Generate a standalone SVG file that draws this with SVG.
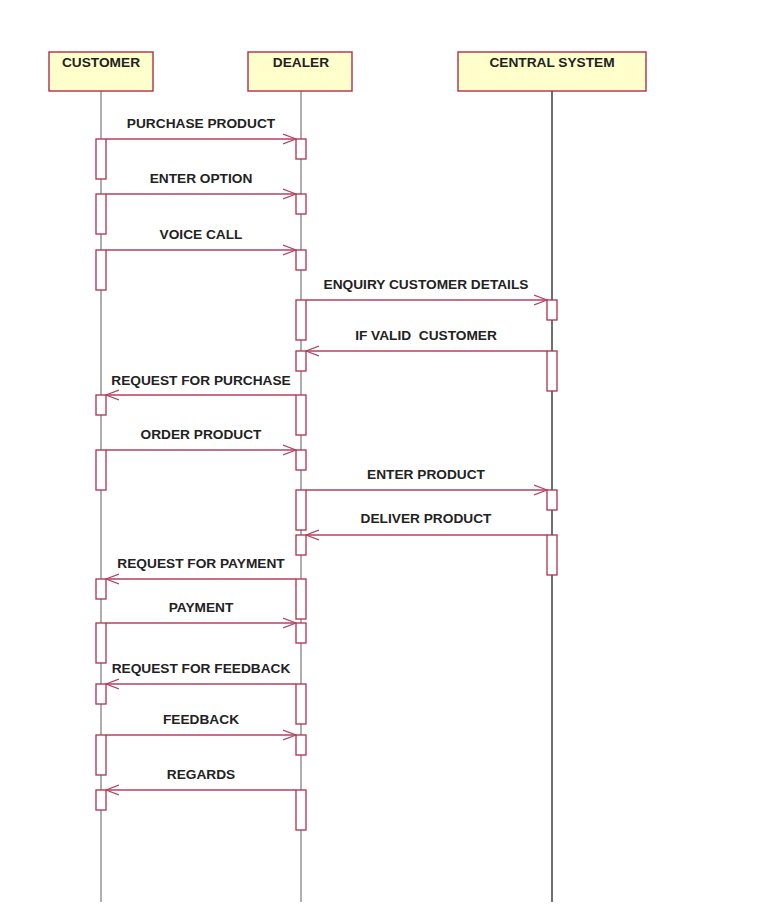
<svg xmlns="http://www.w3.org/2000/svg" width="761" height="909" viewBox="0 0 761 909">
<style>
.hdr{fill:#ffffcc;stroke:#b0304c;stroke-width:1.4}
.ll{stroke:#9a9a9a;stroke-width:1.6;fill:none}
.ll2{stroke:#222;stroke-width:1.3;fill:none}
.act{fill:#fff;stroke:#b0304c;stroke-width:1.3}
.msg{stroke:#b5405f;stroke-width:1.3;fill:none;marker-end:url(#ah)}
.t{font-family:"Liberation Sans",Arial,sans-serif;font-weight:bold;font-size:13.7px;fill:#222;text-anchor:middle}
</style>
<defs>
<marker id="ah" viewBox="0 0 14 12" refX="13" refY="6" markerWidth="14" markerHeight="12" markerUnits="userSpaceOnUse" orient="auto">
<path d="M0,1 L13,6 L0,11" fill="none" stroke="#b5405f" stroke-width="1.2"/>
</marker>
</defs>
<rect width="761" height="909" fill="#fff"/>
<g id="customer">
<line class="ll" x1="101" y1="91" x2="101" y2="902"/>
<rect class="hdr" x="49" y="52" width="104" height="39"/>
<text class="t" x="101" y="67">CUSTOMER</text>
<rect class="act" x="96" y="139" width="10" height="40"/>
<rect class="act" x="96" y="194" width="10" height="40"/>
<rect class="act" x="96" y="250" width="10" height="40"/>
<rect class="act" x="96" y="395" width="10" height="20"/>
<rect class="act" x="96" y="450" width="10" height="40"/>
<rect class="act" x="96" y="579" width="10" height="20"/>
<rect class="act" x="96" y="623" width="10" height="40"/>
<rect class="act" x="96" y="684" width="10" height="20"/>
<rect class="act" x="96" y="735" width="10" height="40"/>
<rect class="act" x="96" y="790" width="10" height="20"/>
</g>
<g id="dealer">
<line class="ll" x1="301" y1="91" x2="301" y2="902"/>
<rect class="hdr" x="248" y="52" width="104" height="39"/>
<text class="t" x="301" y="67">DEALER</text>
<rect class="act" x="296" y="139" width="10" height="20"/>
<rect class="act" x="296" y="194" width="10" height="20"/>
<rect class="act" x="296" y="250" width="10" height="20"/>
<rect class="act" x="296" y="300" width="10" height="40"/>
<rect class="act" x="296" y="351" width="10" height="20"/>
<rect class="act" x="296" y="395" width="10" height="40"/>
<rect class="act" x="296" y="450" width="10" height="20"/>
<rect class="act" x="296" y="490" width="10" height="40"/>
<rect class="act" x="296" y="535" width="10" height="20"/>
<rect class="act" x="296" y="579" width="10" height="40"/>
<rect class="act" x="296" y="623" width="10" height="20"/>
<rect class="act" x="296" y="684" width="10" height="40"/>
<rect class="act" x="296" y="735" width="10" height="20"/>
<rect class="act" x="296" y="790" width="10" height="40"/>
</g>
<g id="central">
<line class="ll2" x1="552" y1="91" x2="552" y2="902"/>
<rect class="hdr" x="458" y="52" width="188" height="39"/>
<text class="t" x="552" y="67">CENTRAL SYSTEM</text>
<rect class="act" x="547" y="300" width="10" height="20"/>
<rect class="act" x="547" y="351" width="10" height="40"/>
<rect class="act" x="547" y="490" width="10" height="20"/>
<rect class="act" x="547" y="535" width="10" height="40"/>
</g>
<g id="connectors">
<line class="msg" x1="106" y1="139" x2="296" y2="139"/>
<text class="t" x="201" y="128">PURCHASE PRODUCT</text>
<line class="msg" x1="106" y1="194" x2="296" y2="194"/>
<text class="t" x="201" y="183">ENTER OPTION</text>
<line class="msg" x1="106" y1="250" x2="296" y2="250"/>
<text class="t" x="201" y="239">VOICE CALL</text>
<line class="msg" x1="306" y1="300" x2="547" y2="300"/>
<text class="t" x="426" y="289">ENQUIRY CUSTOMER DETAILS</text>
<line class="msg" x1="547" y1="351" x2="306" y2="351"/>
<text class="t" x="426" y="340" xml:space="preserve">IF VALID  CUSTOMER</text>
<line class="msg" x1="296" y1="395" x2="106" y2="395"/>
<text class="t" x="201" y="385">REQUEST FOR PURCHASE</text>
<line class="msg" x1="106" y1="450" x2="296" y2="450"/>
<text class="t" x="201" y="439">ORDER PRODUCT</text>
<line class="msg" x1="306" y1="490" x2="547" y2="490"/>
<text class="t" x="426" y="479">ENTER PRODUCT</text>
<line class="msg" x1="547" y1="535" x2="306" y2="535"/>
<text class="t" x="426" y="523">DELIVER PRODUCT</text>
<line class="msg" x1="296" y1="579" x2="106" y2="579"/>
<text class="t" x="201" y="568">REQUEST FOR PAYMENT</text>
<line class="msg" x1="106" y1="623" x2="296" y2="623"/>
<text class="t" x="201" y="612">PAYMENT</text>
<line class="msg" x1="296" y1="684" x2="106" y2="684"/>
<text class="t" x="201" y="673">REQUEST FOR FEEDBACK</text>
<line class="msg" x1="106" y1="735" x2="296" y2="735"/>
<text class="t" x="201" y="724">FEEDBACK</text>
<line class="msg" x1="296" y1="790" x2="106" y2="790"/>
<text class="t" x="201" y="779">REGARDS</text>
</g>
</svg>
